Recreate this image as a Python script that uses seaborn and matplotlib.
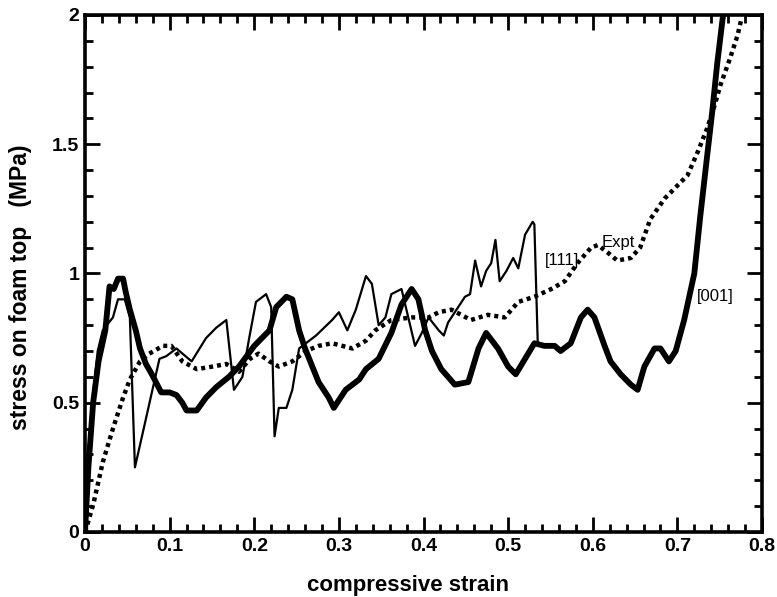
import numpy as np
import pandas as pd
import matplotlib
matplotlib.use('Agg')
import matplotlib.pyplot as plt
from matplotlib.ticker import MultipleLocator
import seaborn as sns

# [001] thick curve
x001 = [0, 0.004, 0.0096, 0.016, 0.024, 0.029, 0.034, 0.039, 0.045, 0.048, 0.053, 0.060,
        0.065, 0.072, 0.079, 0.090, 0.100, 0.108, 0.115, 0.120, 0.132, 0.143, 0.155, 0.170,
        0.182, 0.200, 0.218, 0.226, 0.238, 0.245, 0.253, 0.260, 0.276, 0.288, 0.294, 0.308,
        0.324, 0.332, 0.347, 0.362, 0.374, 0.386, 0.394, 0.402, 0.410, 0.421, 0.437, 0.453,
        0.465, 0.474, 0.488, 0.500, 0.509, 0.520, 0.531, 0.543, 0.555, 0.562, 0.574, 0.586,
        0.594, 0.602, 0.614, 0.621, 0.633, 0.645, 0.653, 0.661, 0.673, 0.680, 0.690, 0.698,
        0.708, 0.720, 0.727, 0.735, 0.741, 0.747, 0.754, 0.758]
y001 = [0, 0.25, 0.50, 0.66, 0.78, 0.95, 0.94, 0.98, 0.98, 0.93, 0.86, 0.78,
        0.71, 0.65, 0.61, 0.54, 0.54, 0.53, 0.50, 0.47, 0.47, 0.52, 0.56, 0.60,
        0.64, 0.72, 0.78, 0.87, 0.91, 0.90, 0.78, 0.71, 0.58, 0.52, 0.48, 0.55,
        0.59, 0.63, 0.67, 0.77, 0.88, 0.94, 0.90, 0.78, 0.70, 0.63, 0.57, 0.58,
        0.71, 0.77, 0.71, 0.64, 0.61, 0.67, 0.73, 0.72, 0.72, 0.70, 0.73, 0.83,
        0.86, 0.83, 0.72, 0.66, 0.61, 0.57, 0.55, 0.64, 0.71, 0.71, 0.66, 0.70,
        0.82, 1.00, 1.22, 1.45, 1.62, 1.81, 2.00, 2.08]

# [111] thin curve
x111 = [0, 0.005, 0.010, 0.015, 0.021, 0.033, 0.039, 0.047, 0.053, 0.059, 0.068, 0.079,
        0.088, 0.096, 0.108, 0.126, 0.143, 0.155, 0.167, 0.176, 0.186, 0.194, 0.202, 0.214,
        0.220, 0.224, 0.229, 0.238, 0.245, 0.253, 0.261, 0.273, 0.292, 0.300, 0.310, 0.320,
        0.332, 0.339, 0.347, 0.355, 0.362, 0.374, 0.382, 0.390, 0.398, 0.406, 0.418, 0.424,
        0.429, 0.437, 0.449, 0.455, 0.461, 0.468, 0.474, 0.480, 0.485, 0.490, 0.498, 0.506,
        0.512, 0.520, 0.529, 0.531, 0.535]
y111 = [0, 0.30, 0.55, 0.70, 0.78, 0.83, 0.90, 0.90, 0.83, 0.25, 0.38, 0.54,
        0.67, 0.68, 0.71, 0.66, 0.75, 0.79, 0.82, 0.55, 0.60, 0.75, 0.89, 0.92,
        0.87, 0.37, 0.48, 0.48, 0.55, 0.71, 0.73, 0.76, 0.82, 0.85, 0.78, 0.86,
        0.99, 0.96, 0.80, 0.83, 0.92, 0.94, 0.83, 0.72, 0.77, 0.83, 0.78, 0.76,
        0.81, 0.85, 0.91, 0.92, 1.05, 0.95, 1.01, 1.04, 1.13, 0.97, 1.01, 1.06,
        1.02, 1.15, 1.20, 1.19, 0.73]

# experiment (dotted)
xexp = [0, 0.002, 0.010, 0.021, 0.033, 0.045, 0.053, 0.065, 0.076, 0.092, 0.102, 0.115,
        0.132, 0.151, 0.167, 0.182, 0.195, 0.205, 0.218, 0.229, 0.245, 0.261, 0.276, 0.292,
        0.316, 0.332, 0.343, 0.362, 0.386, 0.406, 0.418, 0.433, 0.456, 0.476, 0.496, 0.512,
        0.531, 0.551, 0.567, 0.582, 0.598, 0.606, 0.618, 0.629, 0.645, 0.656, 0.668, 0.685,
        0.700, 0.712, 0.724, 0.735, 0.743, 0.751, 0.762, 0.771, 0.776]
yexp = [0, 0.02, 0.11, 0.27, 0.40, 0.52, 0.59, 0.66, 0.69, 0.72, 0.72, 0.66,
        0.63, 0.64, 0.65, 0.62, 0.67, 0.69, 0.66, 0.64, 0.66, 0.70, 0.72, 0.73,
        0.71, 0.74, 0.78, 0.82, 0.83, 0.83, 0.85, 0.86, 0.82, 0.84, 0.83, 0.89,
        0.91, 0.94, 0.97, 1.04, 1.10, 1.11, 1.08, 1.05, 1.06, 1.10, 1.21, 1.29,
        1.34, 1.38, 1.47, 1.56, 1.64, 1.73, 1.83, 1.92, 1.99]

xticks = [0, 0.1, 0.2, 0.3, 0.4, 0.5, 0.6, 0.7, 0.8]
xtick_labels = ['0', '0.1', '0.2', '0.3', '0.4', '0.5', '0.6', '0.7', '0.8']
yticks = [0, 0.5, 1, 1.5, 2]
ytick_labels = ['0', '0.5', '1', '1.5', '2']

sns.set_style('ticks')
plt.rcParams['font.family'] = ['Liberation Sans Narrow', 'Liberation Sans', 'DejaVu Sans']
plt.rcParams['text.color'] = 'black'
plt.rcParams['axes.labelcolor'] = 'black'
plt.rcParams['xtick.color'] = 'black'
plt.rcParams['ytick.color'] = 'black'

fig = plt.figure(figsize=(7.77, 5.97), dpi=100)
ax = fig.add_axes([0.1094, 0.1089, 0.8713, 0.866])

df001 = pd.DataFrame({'x': x001, 'y': y001})
df111 = pd.DataFrame({'x': x111, 'y': y111})
dfexp = pd.DataFrame({'x': xexp, 'y': yexp})

sns.lineplot(data=dfexp, x='x', y='y', sort=False, ax=ax, color='black', lw=3.2,
             linestyle=(0, (0.9, 0.9)))
sns.lineplot(data=df111, x='x', y='y', sort=False, ax=ax, color='black', lw=1.6)
sns.lineplot(data=df001, x='x', y='y', sort=False, ax=ax, color='black', lw=4.2,
             solid_joinstyle='round')

ax.set_xlim(0, 0.8)
ax.set_ylim(0, 2)
ax.set_xticks(xticks)
ax.set_xticklabels(xtick_labels)
ax.set_yticks(yticks)
ax.set_yticklabels(ytick_labels)
ax.xaxis.set_minor_locator(MultipleLocator(0.02))
ax.yaxis.set_minor_locator(MultipleLocator(0.1))
ax.tick_params(which='both', direction='in', top=True, right=True, width=2, color='black')
ax.tick_params(which='major', length=11, labelsize=14, pad=4)
ax.tick_params(which='minor', length=6)
for lab in ax.get_xticklabels() + ax.get_yticklabels():
    lab.set_fontweight('bold')
for s in ax.spines.values():
    s.set_linewidth(2.6)
    s.set_color('black')

ax.set_xlabel('compressive strain', fontsize=16, fontweight='bold')
ax.set_ylabel('stress on foam top   (MPa)', fontsize=16.5, fontweight='bold')
ax.xaxis.set_label_coords(0.477, -0.083)
ax.yaxis.set_label_coords(-0.078, 0.474)

ax.text(0.544, 1.05, '[111]', fontsize=12, va='center', ha='left')
ax.text(0.611, 1.12, 'Expt', fontsize=12, va='center', ha='left')
ax.text(0.723, 0.91, '[001]', fontsize=12, va='center', ha='left')

fig.savefig('out.png', dpi=100)
